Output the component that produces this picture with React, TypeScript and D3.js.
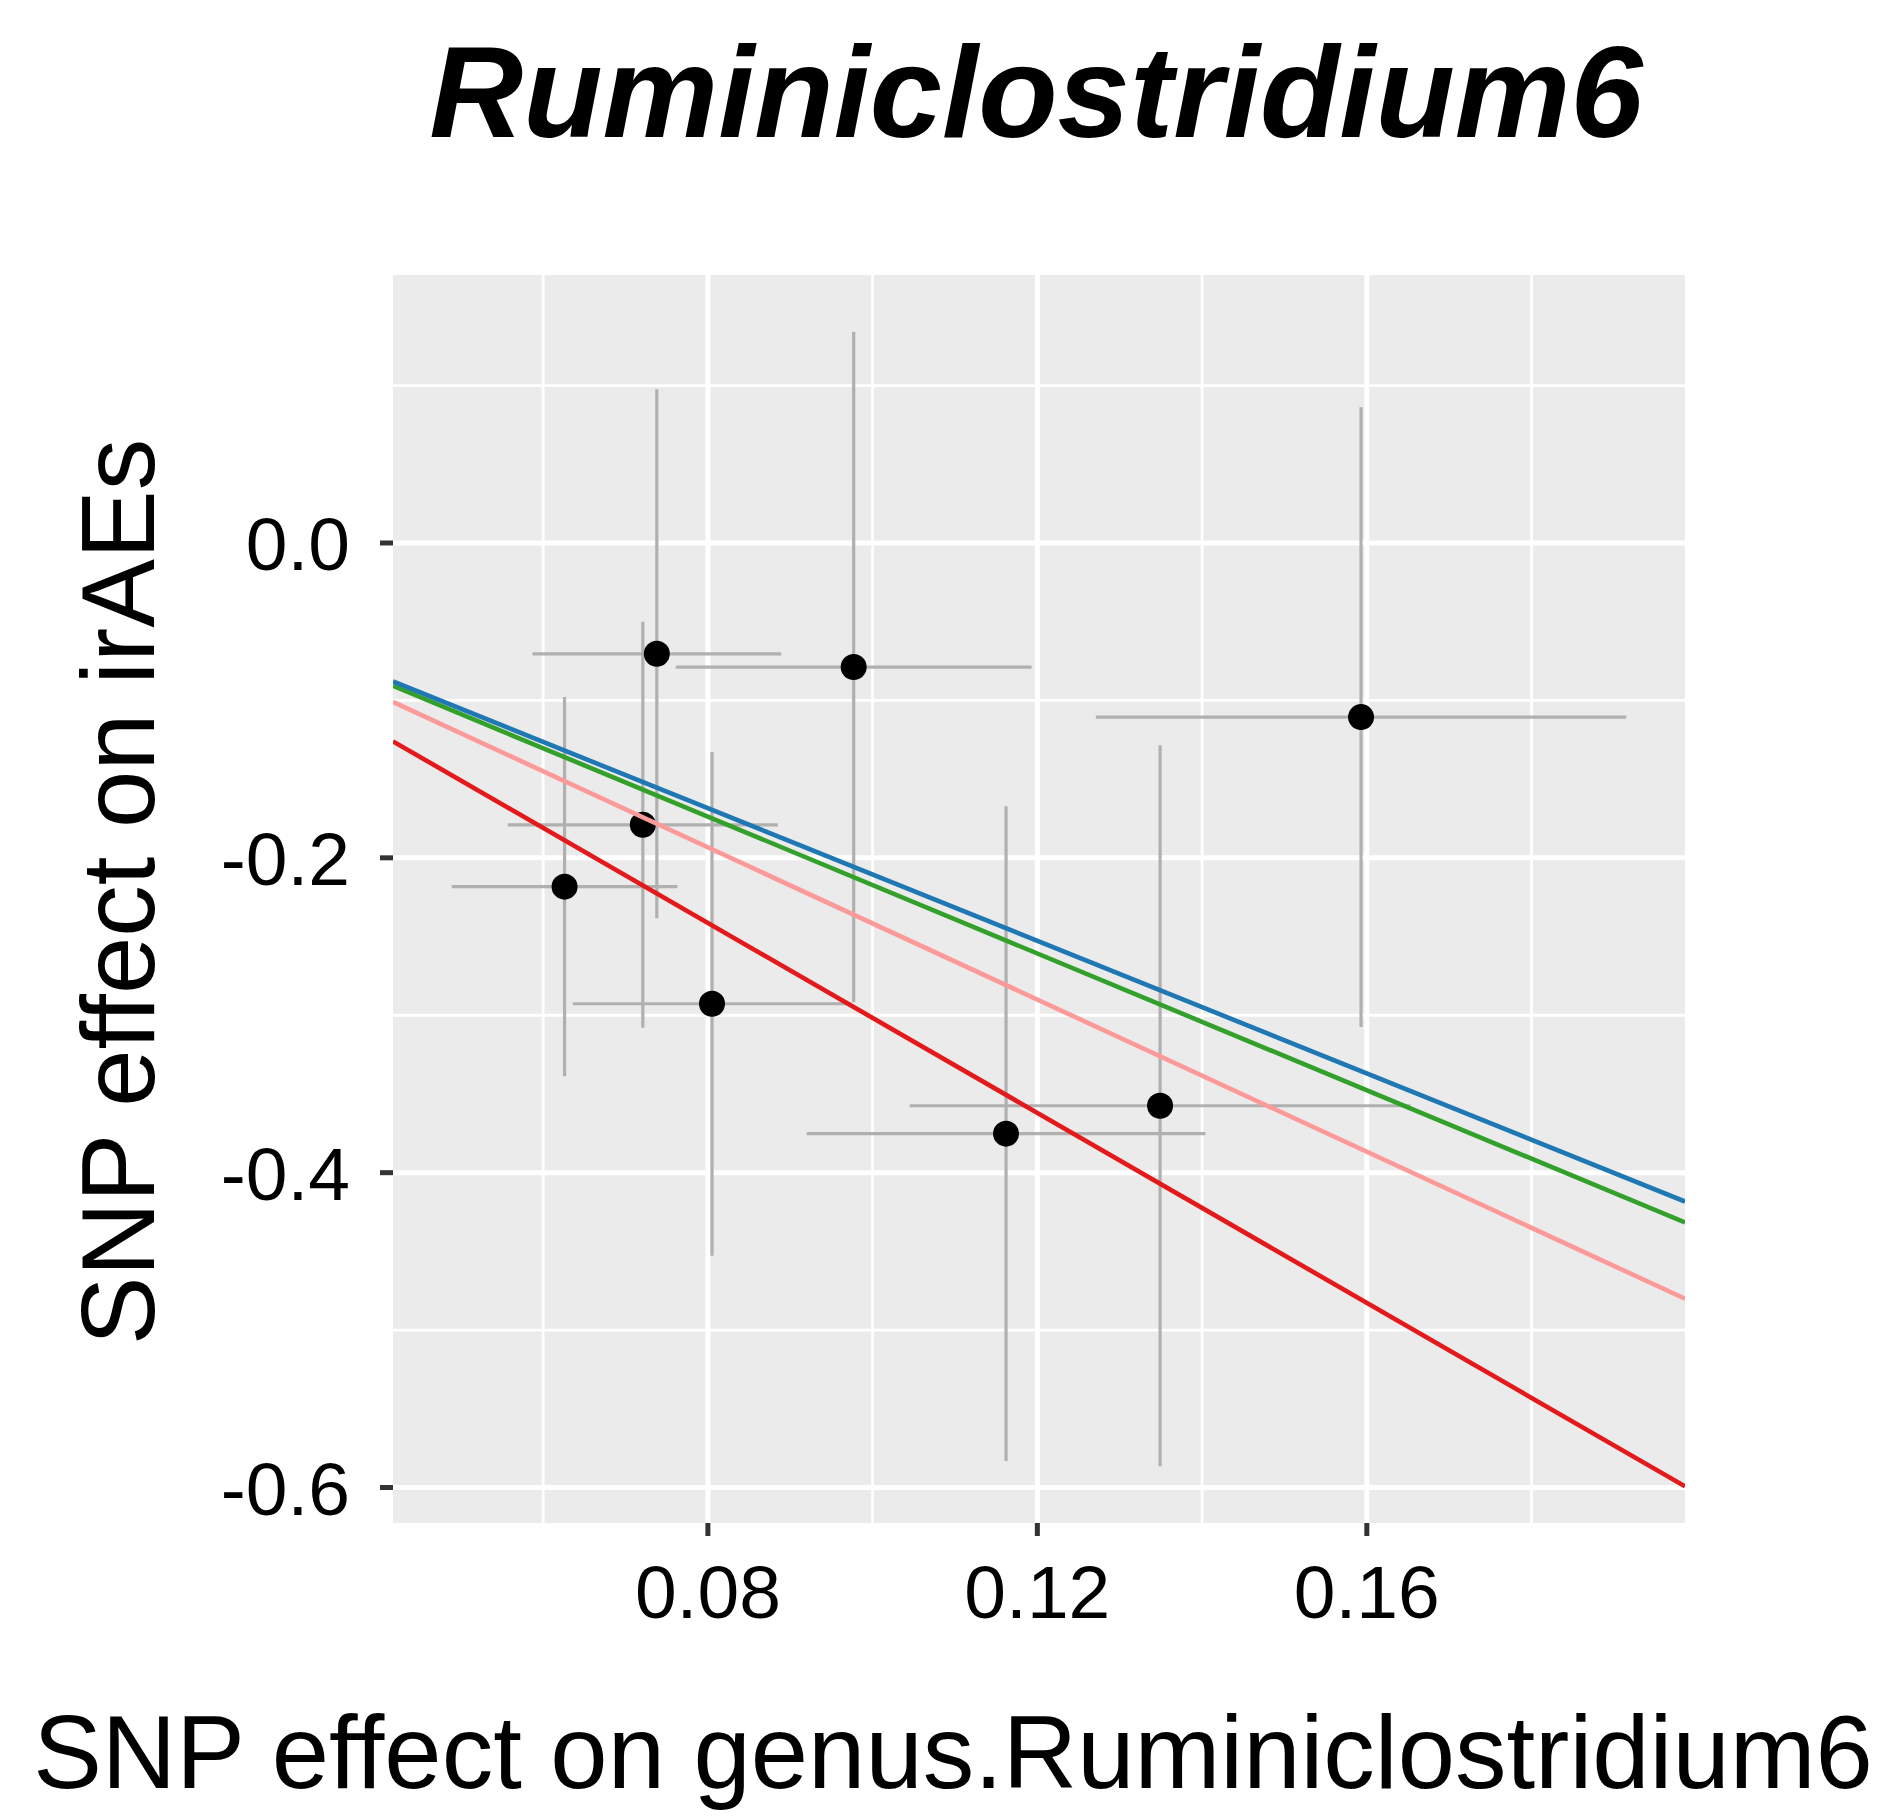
import React from "react";
import * as d3 from "d3";

// SNP-level estimates: effect on exposure (genus) and on outcome (irAEs)
const snpExposure = [0.0738, 0.0977, 0.0721, 0.0626, 0.0805, 0.1162, 0.1349, 0.1593];
const snpOutcome = [-0.0704, -0.0788, -0.179, -0.2183, -0.2927, -0.3752, -0.3575, -0.1106];
// half-widths of the 95% intervals
const exposureCI = [0.0151, 0.0216, 0.0164, 0.0137, 0.0169, 0.0242, 0.0304, 0.0322];
const outcomeCI = [0.168, 0.213, 0.129, 0.1205, 0.16, 0.208, 0.229, 0.1968];

// MR method fits (lines through the origin)
const methodSlopes = [-3.017, -2.417, -2.173, -2.106];
const methodColors = ["#e31a1c", "#fb9a99", "#33a02c", "#1f78b4"];

const xTicks = [0.08, 0.12, 0.16];
const xMinor = [0.06, 0.1, 0.14, 0.18];
const yTicks = [0, -0.2, -0.4, -0.6];
const yMinor = [0.1, -0.1, -0.3, -0.5];

const W = 1903;
const H = 1818;
const panel = { left: 393, right: 1685, top: 275, bottom: 1523 };

function expanded(lo: number, hi: number): [number, number] {
  const pad = (hi - lo) * 0.05;
  return [lo - pad, hi + pad];
}

export default function App() {
  const idx = d3.range(snpExposure.length);
  const xLo = d3.min(idx, (i) => snpExposure[i] - exposureCI[i]) as number;
  const xHi = d3.max(idx, (i) => snpExposure[i] + exposureCI[i]) as number;
  const yLo = d3.min(idx, (i) => snpOutcome[i] - outcomeCI[i]) as number;
  const yHi = d3.max(idx, (i) => snpOutcome[i] + outcomeCI[i]) as number;

  const x = d3.scaleLinear().domain(expanded(xLo, xHi)).range([panel.left, panel.right]);
  const y = d3.scaleLinear().domain(expanded(yLo, yHi)).range([panel.bottom, panel.top]);
  const [x0, x1] = x.domain();

  const fitLine = d3
    .line<number[]>()
    .x((d) => x(d[0]))
    .y((d) => y(d[1]));

  const font = "'Liberation Sans', Arial, Helvetica, sans-serif";
  const gridMajor = 5;
  const gridMinor = 2.8;
  const barColor = "#b0b0b0";

  return (
    <svg
      width={W}
      height={H}
      style={{ position: "absolute", left: 0, top: 0, background: "#ffffff" }}
      fontFamily={font}
    >
      <defs>
        <clipPath id="panelClip">
          <rect
            x={panel.left}
            y={panel.top}
            width={panel.right - panel.left}
            height={panel.bottom - panel.top}
          />
        </clipPath>
      </defs>

      <text
        x={1036}
        y={137}
        textAnchor="middle"
        fontSize={130}
        fontWeight="bold"
        fontStyle="italic"
        fill="#000"
      >
        Ruminiclostridium6
      </text>

      {/* panel background */}
      <rect
        x={panel.left}
        y={panel.top}
        width={panel.right - panel.left}
        height={panel.bottom - panel.top}
        fill="#ebebeb"
      />

      {/* grid */}
      <g stroke="#ffffff" fill="none">
        {yMinor.map((v) => (
          <line key={"ym" + v} x1={panel.left} x2={panel.right} y1={y(v)} y2={y(v)} strokeWidth={gridMinor} />
        ))}
        {xMinor.map((v) => (
          <line key={"xm" + v} x1={x(v)} x2={x(v)} y1={panel.top} y2={panel.bottom} strokeWidth={gridMinor} />
        ))}
        {yTicks.map((v) => (
          <line key={"yM" + v} x1={panel.left} x2={panel.right} y1={y(v)} y2={y(v)} strokeWidth={gridMajor} />
        ))}
        {xTicks.map((v) => (
          <line key={"xM" + v} x1={x(v)} x2={x(v)} y1={panel.top} y2={panel.bottom} strokeWidth={gridMajor} />
        ))}
      </g>

      <g clipPath="url(#panelClip)">
        {/* error bars */}
        <g stroke={barColor} strokeWidth={3.2}>
          {idx.map((i) => (
            <line
              key={"v" + i}
              x1={x(snpExposure[i])}
              x2={x(snpExposure[i])}
              y1={y(snpOutcome[i] - outcomeCI[i])}
              y2={y(snpOutcome[i] + outcomeCI[i])}
            />
          ))}
          {idx.map((i) => (
            <line
              key={"h" + i}
              x1={x(snpExposure[i] - exposureCI[i])}
              x2={x(snpExposure[i] + exposureCI[i])}
              y1={y(snpOutcome[i])}
              y2={y(snpOutcome[i])}
            />
          ))}
        </g>

        {/* points */}
        {idx.map((i) => (
          <circle key={"p" + i} cx={x(snpExposure[i])} cy={y(snpOutcome[i])} r={13} fill="#000" />
        ))}

        {/* method fits */}
        {methodSlopes.map((b, k) => (
          <path
            key={"fit" + k}
            d={fitLine([
              [x0, b * x0],
              [x1, b * x1],
            ]) as string}
            stroke={methodColors[k]}
            strokeWidth={4.6}
            fill="none"
          />
        ))}
      </g>

      {/* axis ticks */}
      <g stroke="#333333" strokeWidth={5}>
        {xTicks.map((v) => (
          <line key={"xt" + v} x1={x(v)} x2={x(v)} y1={panel.bottom} y2={panel.bottom + 13} />
        ))}
        {yTicks.map((v) => (
          <line key={"yt" + v} x1={panel.left - 13} x2={panel.left} y1={y(v)} y2={y(v)} />
        ))}
      </g>

      {/* tick labels */}
      <g fontSize={75} fill="#000">
        {xTicks.map((v) => (
          <text key={"xl" + v} x={x(v)} y={1618} textAnchor="middle">
            {d3.format(".2f")(v)}
          </text>
        ))}
        {yTicks.map((v) => (
          <text key={"yl" + v} x={350} y={y(v) + 27} textAnchor="end">
            {d3.format(".1f")(v).replace("−", "-")}
          </text>
        ))}
      </g>

      {/* axis titles */}
      <text x={953} y={1788} textAnchor="middle" fontSize={103} fill="#000">
        SNP effect on genus.Ruminiclostridium6
      </text>
      <text
        transform={`translate(154, 892) rotate(-90)`}
        textAnchor="middle"
        fontSize={103}
        fill="#000"
      >
        SNP effect on irAEs
      </text>
    </svg>
  );
}
